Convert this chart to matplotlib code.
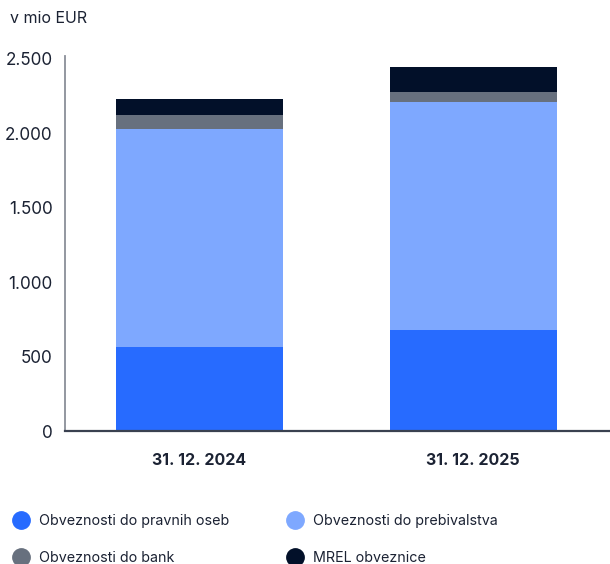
import matplotlib
matplotlib.use("Agg")
import matplotlib.pyplot as plt
from matplotlib.lines import Line2D
from matplotlib.ticker import FuncFormatter

plt.rcParams['font.family'] = ['Inter', 'DejaVu Sans']

# podatki (v mio EUR)
categories = ["31. 12. 2024", "31. 12. 2025"]
series_names = ["Obveznosti do pravnih oseb", "Obveznosti do prebivalstva",
                "Obveznosti do bank", "MREL obveznice"]
pravne = [566, 679]
prebivalstvo = [1464, 1532]
banke = [94, 67]
mrel = [107, 168]
colors = ["#276bff", "#7ea8ff", "#67707e", "#021029"]

TEXT = "#1b2233"

fig = plt.figure(figsize=(6.10, 5.64), dpi=100)
ax = fig.add_axes([0.1066, 0.2358, 0.8934, 0.6649])

x = list(range(len(categories)))
bottom = [0, 0]
for vals, col in zip([pravne, prebivalstvo, banke, mrel], colors):
    ax.bar(x, vals, bottom=bottom, width=0.61, color=col, linewidth=0)
    bottom = [b + v for b, v in zip(bottom, vals)]

ax.set_xlim(-0.49, 1.5)
ax.set_ylim(0, 2520)
ax.set_yticks([0, 500, 1000, 1500, 2000, 2500])
ax.yaxis.set_major_formatter(FuncFormatter(lambda v, p: f"{int(v):,}".replace(",", ".")))
ax.set_xticks(x)
ax.set_xticklabels(categories, fontweight="bold", fontsize=11.5, color=TEXT)
ax.tick_params(axis="x", length=0, pad=16)
ax.tick_params(axis="y", length=0, pad=9, labelsize=12.3, labelcolor=TEXT)

for s in ["top", "right"]:
    ax.spines[s].set_visible(False)
ax.spines["left"].set_color("#8a8f99")
ax.spines["left"].set_linewidth(1.3)
ax.spines["bottom"].set_color("#3a4150")
ax.spines["bottom"].set_linewidth(1.6)

fig.text(0.016, 0.968, "v mio EUR", fontsize=11.5, color=TEXT, va="center", ha="left")

# legenda
order = [0, 2, 1, 3]
handles = [Line2D([], [], marker="o", linestyle="none", markersize=12.5,
                  markerfacecolor=colors[i], markeredgecolor=colors[i]) for i in order]
labels = [series_names[i] for i in order]
fig.legend(handles, labels, loc="upper left", bbox_to_anchor=(0.0, 0.112),
           ncol=2, frameon=False, fontsize=10.3, labelcolor=TEXT,
           handletextpad=0.6, columnspacing=4.05, labelspacing=1.6, handlelength=1.2)

fig.savefig("out.png", dpi=100)
